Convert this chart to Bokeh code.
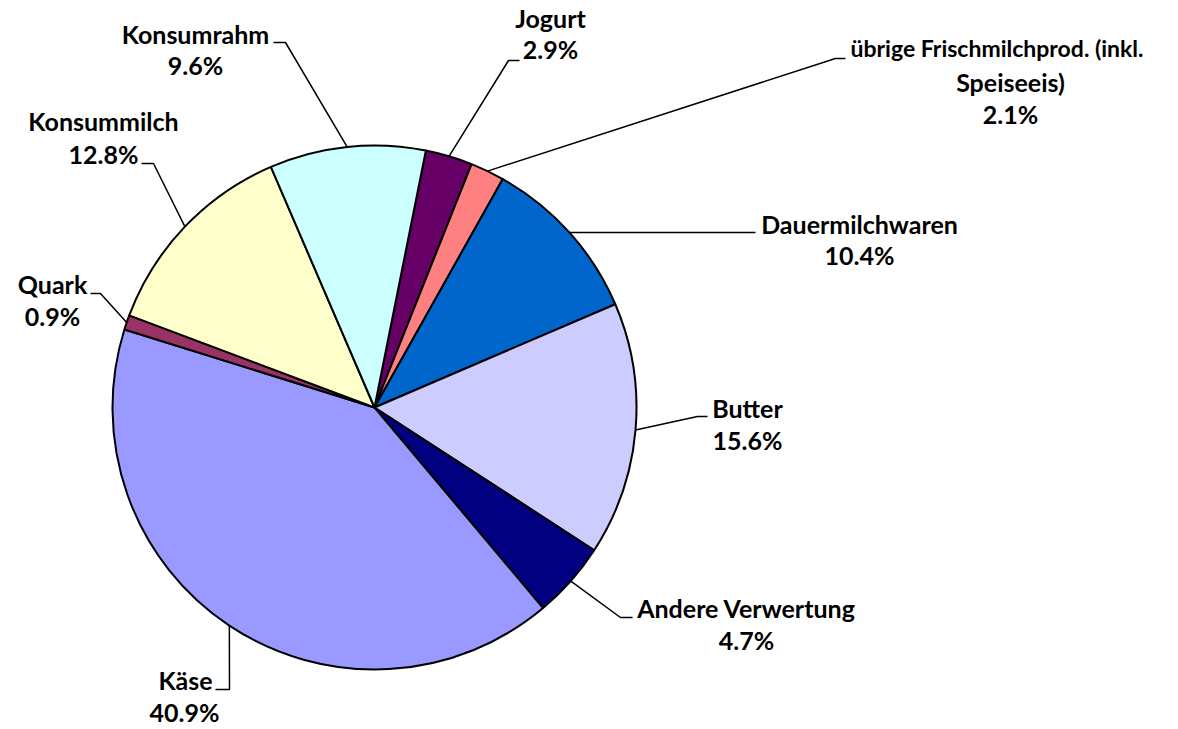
import numpy as np
from bokeh.plotting import figure
from bokeh.models import Range1d
from bokeh.embed import file_html
from bokeh.resources import INLINE
from bokeh.core.properties import value

# ---- data (clockwise order, starting with Jogurt) ----
categories = ["Jogurt", "übrige Frischmilchprod. (inkl. Speiseeis)", "Dauermilchwaren",
              "Butter", "Andere Verwertung", "Käse", "Quark", "Konsummilch", "Konsumrahm"]
shares = [2.9, 2.1, 10.4, 15.6, 4.7, 40.9, 0.9, 12.8, 9.6]
colors = ["#660066", "#FF8080", "#0066CC", "#CCCCFF", "#000080",
          "#9999FF", "#993366", "#FFFFCC", "#CCFFFF"]
label_lines = [["Jogurt"], ["übrige Frischmilchprod. (inkl.", "Speiseeis)"], ["Dauermilchwaren"],
               ["Butter"], ["Andere Verwertung"], ["Käse"], ["Quark"], ["Konsummilch"], ["Konsumrahm"]]

# ---- layout (picture pixel coordinates, y downwards) ----
W, H = 1178, 729
CX, CY, R = 374, 407, 262
START_DEG = 11.3  # clockwise from 12 o'clock
FONT = "Lato"
FS = "25px"
TEXT_SHIFT = -10
# per label: list of (x, baseline y, align, size) for each text line, elbow point, end of horizontal stub
label_pos = [
    ([(550, 27, "center", FS), (550, 58, "center", FS)], (508, 60), (519, 60)),
    ([(850, 57, "left", "23px"), (1010, 91, "center", FS), (1010, 123, "center", FS)], (835, 58), (845, 58)),
    ([(859, 233, "center", FS), (859, 264, "center", FS)], (755, 232), (755, 232)),
    ([(747, 417, "center", FS), (747, 449, "center", FS)], (697, 416), (707, 416)),
    ([(746, 617, "center", FS), (746, 649, "center", FS)], (620, 617), (632, 617)),
    ([(185, 689, "center", FS), (184, 721, "center", FS)], (229, 689), (215, 689)),
    ([(52, 293, "center", FS), (52, 325, "center", FS)], (100, 293), (90, 293)),
    ([(103, 130, "center", FS), (103, 163, "center", FS)], (153, 163), (141, 163)),
    ([(195, 43, "center", FS), (195, 74, "center", FS)], (285, 42), (273, 42)),
]

p = figure(width=W, height=H, output_backend="svg", toolbar_location=None,
           x_range=Range1d(0, W), y_range=Range1d(-H, 0),
           min_border=0, outline_line_color=None)
p.axis.visible = False
p.xgrid.visible = False
p.ygrid.visible = False
p.background_fill_color = "white"

vals = np.array(shares, dtype=float)
frac = vals / vals.sum()
cum = np.concatenate([[0], np.cumsum(frac)]) * 360.0 + START_DEG
starts_cw = cum[:-1]
ends_cw = cum[1:]
# bokeh angles: counter-clockwise from +x; clockwise-from-top theta -> 90 - theta
start_ang = np.radians(90 - starts_cw)
end_ang = np.radians(90 - ends_cw)

p.wedge(x=CX, y=-CY, radius=R, start_angle=start_ang, end_angle=end_ang,
        direction="clock", fill_color=colors, line_color="black", line_width=2)

for i, (cat, v) in enumerate(zip(categories, shares)):
    mid = np.radians((starts_cw[i] + ends_cw[i]) / 2)
    ex = CX + R * np.sin(mid)
    ey = CY - R * np.cos(mid)
    lines_pos, elbow, stub = label_pos[i]
    p.line([ex, elbow[0], stub[0]], [-ey, -elbow[1], -stub[1]], line_color="black", line_width=1.5)
    texts = label_lines[i] + [f"{v:.1f}%"]
    for t, (tx, ty, al, fs) in zip(texts, lines_pos):
        p.text(x=[tx], y=[-(ty + TEXT_SHIFT)], text=[t], text_align=al, text_baseline="alphabetic",
               text_font=value(FONT), text_font_style="bold", text_font_size=fs,
               text_color="black")

open("out.html", "w").write(file_html(p, INLINE))
